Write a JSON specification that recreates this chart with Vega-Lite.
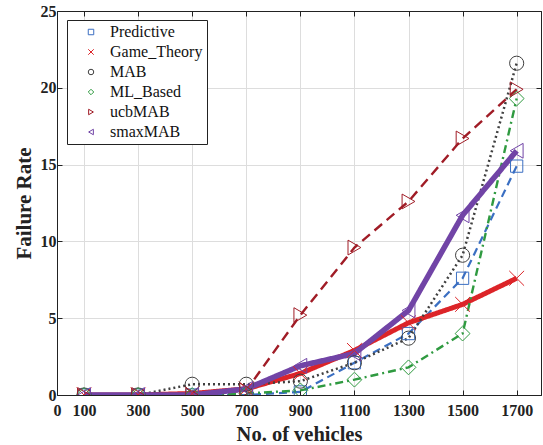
{
  "$schema": "https://vega.github.io/schema/vega-lite/v6.json",
  "width": 484,
  "height": 384,
  "autosize": "none",
  "padding": {"left": 57, "top": 11, "right": 2, "bottom": 50},
  "background": "white",
  "config": {
    "view": {"stroke": "black", "strokeWidth": 1},
    "font": "Liberation Serif"
  },
  "data": {
    "values": [
      {"n": 100, "method": "Predictive", "rate": 0},
      {"n": 300, "method": "Predictive", "rate": 0},
      {"n": 500, "method": "Predictive", "rate": 0},
      {"n": 700, "method": "Predictive", "rate": 0},
      {"n": 900, "method": "Predictive", "rate": 0.2},
      {"n": 1100, "method": "Predictive", "rate": 2.1},
      {"n": 1300, "method": "Predictive", "rate": 4.0},
      {"n": 1500, "method": "Predictive", "rate": 7.6},
      {"n": 1700, "method": "Predictive", "rate": 14.9},
      {"n": 100, "method": "Game_Theory", "rate": 0},
      {"n": 300, "method": "Game_Theory", "rate": 0},
      {"n": 500, "method": "Game_Theory", "rate": 0.1},
      {"n": 700, "method": "Game_Theory", "rate": 0.4},
      {"n": 900, "method": "Game_Theory", "rate": 1.4},
      {"n": 1100, "method": "Game_Theory", "rate": 2.9},
      {"n": 1300, "method": "Game_Theory", "rate": 4.7},
      {"n": 1500, "method": "Game_Theory", "rate": 5.9},
      {"n": 1700, "method": "Game_Theory", "rate": 7.6},
      {"n": 100, "method": "MAB", "rate": 0},
      {"n": 300, "method": "MAB", "rate": 0},
      {"n": 500, "method": "MAB", "rate": 0.7},
      {"n": 700, "method": "MAB", "rate": 0.7},
      {"n": 900, "method": "MAB", "rate": 0.9},
      {"n": 1100, "method": "MAB", "rate": 2.1},
      {"n": 1300, "method": "MAB", "rate": 3.7},
      {"n": 1500, "method": "MAB", "rate": 9.1},
      {"n": 1700, "method": "MAB", "rate": 21.6},
      {"n": 100, "method": "ML_Based", "rate": 0},
      {"n": 300, "method": "ML_Based", "rate": 0},
      {"n": 500, "method": "ML_Based", "rate": 0},
      {"n": 700, "method": "ML_Based", "rate": 0.1},
      {"n": 900, "method": "ML_Based", "rate": 0.3},
      {"n": 1100, "method": "ML_Based", "rate": 1.0},
      {"n": 1300, "method": "ML_Based", "rate": 1.8},
      {"n": 1500, "method": "ML_Based", "rate": 4.0},
      {"n": 1700, "method": "ML_Based", "rate": 19.3},
      {"n": 100, "method": "ucbMAB", "rate": 0},
      {"n": 300, "method": "ucbMAB", "rate": 0},
      {"n": 500, "method": "ucbMAB", "rate": 0},
      {"n": 700, "method": "ucbMAB", "rate": 0.3},
      {"n": 900, "method": "ucbMAB", "rate": 5.2},
      {"n": 1100, "method": "ucbMAB", "rate": 9.6},
      {"n": 1300, "method": "ucbMAB", "rate": 12.6},
      {"n": 1500, "method": "ucbMAB", "rate": 16.7},
      {"n": 1700, "method": "ucbMAB", "rate": 19.9},
      {"n": 100, "method": "smaxMAB", "rate": 0},
      {"n": 300, "method": "smaxMAB", "rate": 0},
      {"n": 500, "method": "smaxMAB", "rate": 0},
      {"n": 700, "method": "smaxMAB", "rate": 0.4},
      {"n": 900, "method": "smaxMAB", "rate": 1.9},
      {"n": 1100, "method": "smaxMAB", "rate": 2.7},
      {"n": 1300, "method": "smaxMAB", "rate": 5.5},
      {"n": 1500, "method": "smaxMAB", "rate": 11.7},
      {"n": 1700, "method": "smaxMAB", "rate": 15.9}
    ]
  },
  "layer": [
    {
      "mark": {"type": "line", "clip": true},
      "encoding": {
        "x": {
          "field": "n", "type": "quantitative",
          "scale": {"domain": [0, 1790], "nice": false, "zero": false},
          "axis": {
            "orient": "bottom",
            "values": [0, 100, 300, 500, 700, 900, 1100, 1300, 1500, 1700],
            "format": "d",
            "title": "No. of vehicles",
            "titleFont": "Liberation Serif", "titleFontSize": 20.5, "titleFontWeight": "bold", "titleColor": "#222",
            "titlePadding": 6,
            "labelFont": "Liberation Serif", "labelFontSize": 16, "labelFontWeight": "bold", "labelColor": "#222",
            "labelPadding": 12, "labelFlush": false, "labelOverlap": false,
            "tickSize": -5, "tickColor": "#222", "domainColor": "#222",
            "grid": true, "gridColor": "#dddddd", "gridWidth": 1
          }
        },
        "y": {
          "field": "rate", "type": "quantitative",
          "scale": {"domain": [0, 25], "nice": false},
          "axis": {
            "orient": "left",
            "values": [0, 5, 10, 15, 20, 25],
            "title": "Failure Rate",
            "titleFont": "Liberation Serif", "titleFontSize": 21, "titleFontWeight": "bold", "titleColor": "#222",
            "titlePadding": 6,
            "labelFont": "Liberation Serif", "labelFontSize": 16, "labelFontWeight": "bold", "labelColor": "#222",
            "labelPadding": 6, "labelFlush": false,
            "tickSize": -5, "tickColor": "#222", "domainColor": "#222",
            "grid": true, "gridColor": "#dddddd", "gridWidth": 1
          }
        },
        "color": {
          "field": "method", "type": "nominal",
          "scale": {
            "domain": ["Predictive", "Game_Theory", "MAB", "ML_Based", "ucbMAB", "smaxMAB"],
            "range": ["#3b6fc2", "#dc2428", "#404040", "#2f9a40", "#a01c26", "#7144a6"]
          },
          "legend": null
        },
        "strokeDash": {
          "field": "method", "type": "nominal",
          "scale": {
            "domain": ["Predictive", "Game_Theory", "MAB", "ML_Based", "ucbMAB", "smaxMAB"],
            "range": [[8, 5], [1, 0], [2, 3], [8, 4, 2, 4], [10, 6], [1, 0]]
          },
          "legend": null
        },
        "strokeWidth": {
          "field": "method", "type": "nominal",
          "scale": {
            "type": "ordinal",
            "domain": ["Predictive", "Game_Theory", "MAB", "ML_Based", "ucbMAB", "smaxMAB"],
            "range": [2.2, 5, 2.5, 2.4, 2.4, 5.5]
          },
          "legend": null
        },
        "order": {"field": "n", "type": "quantitative"}
      }
    },
    {
      "mark": {"type": "point", "filled": false, "strokeWidth": 1, "opacity": 1, "clip": true},
      "encoding": {
        "x": {
          "field": "n", "type": "quantitative",
          "axis": {"orient": "top", "values": [0, 100, 300, 500, 700, 900, 1100, 1300, 1500, 1700], "labels": false, "title": null, "grid": false, "tickSize": -5, "tickColor": "#222", "domainColor": "#222"}
        },
        "y": {
          "field": "rate", "type": "quantitative",
          "axis": {"orient": "right", "values": [0, 5, 10, 15, 20, 25], "labels": false, "title": null, "grid": false, "tickSize": -5, "tickColor": "#222", "domainColor": "#222"}
        },
        "color": {
          "field": "method", "type": "nominal",
          "scale": {
            "domain": ["Predictive", "Game_Theory", "MAB", "ML_Based", "ucbMAB", "smaxMAB"],
            "range": ["#3b6fc2", "#dc2428", "#404040", "#2f9a40", "#a01c26", "#7144a6"]
          },
          "legend": {
            "title": null, "orient": "none", "legendX": 10, "legendY": 9,
            "fillColor": "white", "strokeColor": "#222", "padding": 4,
            "labelFont": "Liberation Serif", "labelFontSize": 16, "labelColor": "#111",
            "symbolSize": 30, "symbolStrokeWidth": 1, "rowPadding": 4, "labelOffset": 11,
            "symbolOffset": 12,
            "encode": {
              "symbols": {
                "update": {
                  "size": {"value": 30}
                }
              }
            }
          }
        },
        "shape": {
          "field": "method", "type": "nominal",
          "scale": {
            "domain": ["Predictive", "Game_Theory", "MAB", "ML_Based", "ucbMAB", "smaxMAB"],
            "range": ["square", "M-1,-1L1,1M-1,1L1,-1", "circle", "diamond", "triangle-right", "triangle-left"]
          },
          "legend": {
            "title": null, "orient": "none", "legendX": 10, "legendY": 9,
            "fillColor": "white", "strokeColor": "#222", "padding": 4,
            "labelFont": "Liberation Serif", "labelFontSize": 16, "labelColor": "#111",
            "symbolSize": 30, "symbolStrokeWidth": 1, "rowPadding": 4, "labelOffset": 11,
            "symbolOffset": 12
          }
        },
        "size": {
          "field": "method", "type": "nominal",
          "scale": {
            "type": "ordinal",
            "domain": ["Predictive", "Game_Theory", "MAB", "ML_Based", "ucbMAB", "smaxMAB"],
            "range": [150, 220, 200, 220, 220, 220]
          },
          "legend": null
        }
      }
    }
  ],
  "resolve": {
    "axis": {"x": "independent", "y": "independent"},
    "scale": {"color": "independent", "shape": "independent"},
    "legend": {"color": "independent", "shape": "independent"}
  }
}
